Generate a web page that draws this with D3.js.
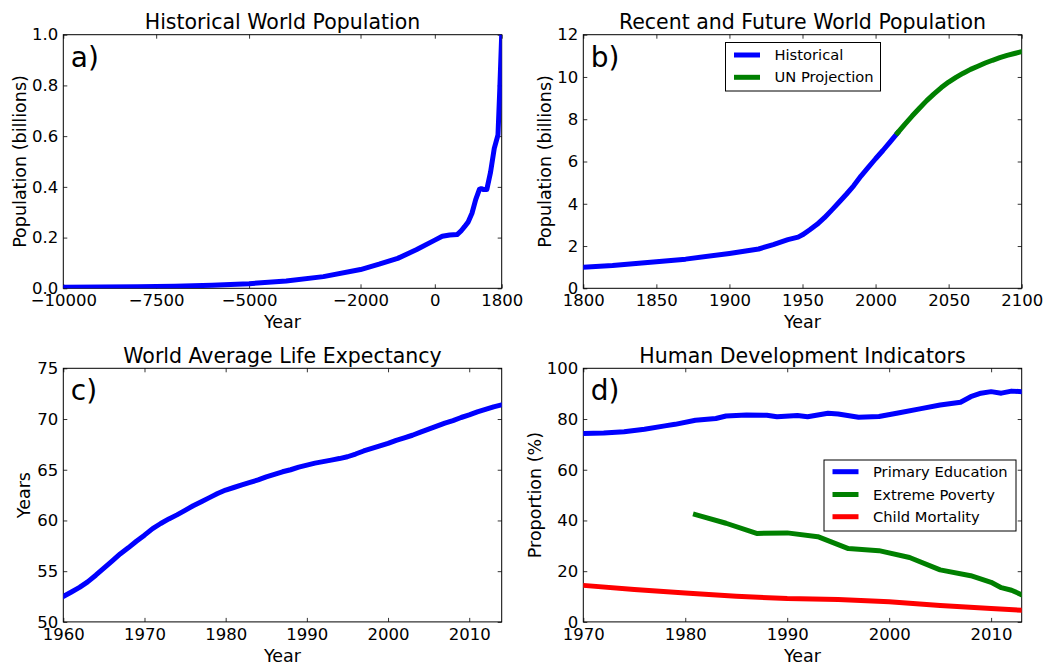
<!DOCTYPE html>
<html>
<head>
<meta charset="utf-8">
<script src="https://cdn.jsdelivr.net/npm/d3@7"></script>
<style>
  html, body { margin: 0; padding: 0; background: #fff; }
  svg { display: block; }
  text { font-family: "DejaVu Sans", sans-serif; fill: #000; }
</style>
</head>
<body>
<svg id="chart" width="1050" height="665"></svg>
<script>
// ---------------- DATA ----------------
// a) Historical world population (billions)
const histYears = [-10000, -9000, -8000, -7000, -6000, -5000, -4000, -3000, -2000, -1500, -1000, -500, 0, 200, 400, 600, 700, 800, 900, 1000, 1100, 1200, 1250, 1300, 1400, 1500, 1600, 1700, 1750, 1800];
const histPop   = [0.004, 0.005, 0.006, 0.008, 0.012, 0.018, 0.029, 0.046, 0.074, 0.095, 0.118, 0.152, 0.19, 0.205, 0.21, 0.212, 0.225, 0.243, 0.262, 0.296, 0.35, 0.39, 0.393, 0.39, 0.39, 0.458, 0.552, 0.605, 0.79, 1.0];
const histXTicks = [-10000, -7500, -5000, -2000, 0, 1800];
const histYTicks = [0, 0.2, 0.4, 0.6, 0.8, 1.0];

// b) Recent population and UN projection (billions)
const recentYears = [1800, 1820, 1850, 1870, 1900, 1910, 1920, 1930, 1940, 1947, 1950, 1955, 1960, 1965, 1970, 1975, 1980, 1985, 1990, 1995, 2000, 2005, 2010, 2015];
const recentPop   = [1.0, 1.08, 1.26, 1.38, 1.65, 1.75, 1.86, 2.07, 2.3, 2.42, 2.53, 2.77, 3.03, 3.34, 3.7, 4.07, 4.45, 4.85, 5.31, 5.72, 6.13, 6.52, 6.93, 7.35];
const projYears = [2015, 2020, 2025, 2030, 2035, 2040, 2045, 2050, 2055, 2060, 2065, 2070, 2075, 2080, 2085, 2090, 2095, 2100];
const projPop   = [7.35, 7.76, 8.15, 8.52, 8.88, 9.2, 9.5, 9.76, 9.98, 10.18, 10.36, 10.51, 10.66, 10.79, 10.91, 11.02, 11.11, 11.2];
const recentXTicks = [1800, 1850, 1900, 1950, 2000, 2050, 2100];
const recentYTicks = [0, 2, 4, 6, 8, 10, 12];
const recentLegend = ["Historical", "UN Projection"];

// c) World average life expectancy (years)
const lifeYears = [1960, 1961, 1962, 1963, 1964, 1965, 1966, 1967, 1968, 1969, 1970, 1971, 1972, 1973, 1974, 1975, 1976, 1977, 1978, 1979, 1980, 1981, 1982, 1983, 1984, 1985, 1986, 1987, 1988, 1989, 1990, 1991, 1992, 1993, 1994, 1995, 1996, 1997, 1998, 1999, 2000, 2001, 2002, 2003, 2004, 2005, 2006, 2007, 2008, 2009, 2010, 2011, 2012, 2013, 2014];
const lifeExp   = [52.5, 52.95, 53.4, 53.95, 54.6, 55.3, 56.0, 56.7, 57.3, 57.95, 58.55, 59.2, 59.7, 60.15, 60.55, 61.0, 61.45, 61.85, 62.25, 62.65, 63.0, 63.25, 63.5, 63.75, 64.0, 64.3, 64.55, 64.8, 65.0, 65.25, 65.46, 65.65, 65.8, 65.95, 66.1, 66.28, 66.55, 66.85, 67.1, 67.35, 67.6, 67.9, 68.15, 68.4, 68.7, 69.0, 69.3, 69.6, 69.85, 70.15, 70.4, 70.7, 70.95, 71.2, 71.4];
const lifeXTicks = [1960, 1970, 1980, 1990, 2000, 2010];
const lifeYTicks = [50, 55, 60, 65, 70, 75];

// d) Human development indicators (%)
const eduYears = [1970, 1972, 1974, 1976, 1978, 1979, 1981, 1983, 1984, 1986, 1988, 1989, 1991, 1992, 1994, 1995, 1997, 1999, 2001, 2003, 2005, 2007, 2008, 2009, 2010, 2011, 2012, 2013];
const eduVals  = [74.3, 74.5, 75.0, 76.0, 77.3, 77.9, 79.5, 80.2, 81.2, 81.6, 81.5, 80.9, 81.4, 80.9, 82.3, 82.0, 80.7, 81.0, 82.5, 84.0, 85.5, 86.6, 88.8, 90.2, 90.8, 90.2, 91.0, 90.8];
const povYears = [1981, 1984, 1987, 1990, 1993, 1996, 1999, 2002, 2005, 2008, 2010, 2011, 2012, 2013];
const povVals  = [42.3, 38.9, 34.9, 35.1, 33.6, 28.9, 28.1, 25.4, 20.5, 18.2, 15.6, 13.5, 12.5, 10.7];
const mortYears = [1970, 1975, 1980, 1985, 1990, 1995, 2000, 2005, 2010, 2013];
const mortVals  = [14.4, 12.8, 11.4, 10.1, 9.2, 8.8, 7.9, 6.5, 5.3, 4.6];
const devXTicks = [1970, 1980, 1990, 2000, 2010];
const devYTicks = [0, 20, 40, 60, 80, 100];
const devLegend = ["Primary Education", "Extreme Poverty", "Child Mortality"];

// ---------------- STYLE ----------------
const BLUE = "#0000ff", GREEN = "#008000", RED = "#ff0000";
const LW = 5;
const TICK_FS = 16.5, LABEL_FS = 17.5, TITLE_FS = 20.5, LEG_FS = 14.7, PANEL_FS = 28;
const minus = s => String(s).replace("-", "\u2212");

const svg = d3.select("#chart");
const defs = svg.append("defs");

function panel(cfg) {
  const {id, left, top, w, h, xDomain, yDomain, xTicks, yTicks, yFmt, title, ylabel, ylabelX, letter} = cfg;
  const g = svg.append("g").attr("transform", `translate(${left},${top})`);
  const x = d3.scaleLinear().domain(xDomain).range([0, w]);
  const y = d3.scaleLinear().domain(yDomain).range([h, 0]);

  defs.append("clipPath").attr("id", "clip-" + id)
    .append("rect").attr("x", 0).attr("y", 0).attr("width", w).attr("height", h);

  const tickStyle = sel => {
    sel.select(".domain").remove();
    sel.selectAll(".tick line").attr("stroke", "#000").attr("stroke-width", 0.8);
    sel.selectAll(".tick text").attr("font-size", TICK_FS).attr("fill", "#000")
      .attr("font-family", "DejaVu Sans");
  };
  g.append("g").attr("transform", `translate(0,${h})`)
    .call(d3.axisBottom(x).tickValues(xTicks).tickSizeInner(-4).tickSizeOuter(0).tickPadding(6).tickFormat(d => minus(d)))
    .call(tickStyle);
  g.append("g")
    .call(d3.axisTop(x).tickValues(xTicks).tickSizeInner(-4).tickSizeOuter(0).tickFormat(""))
    .call(tickStyle);
  g.append("g")
    .call(d3.axisLeft(y).tickValues(yTicks).tickSizeInner(-4).tickSizeOuter(0).tickPadding(5).tickFormat(yFmt))
    .call(tickStyle);
  g.append("g").attr("transform", `translate(${w},0)`)
    .call(d3.axisRight(y).tickValues(yTicks).tickSizeInner(-4).tickSizeOuter(0).tickFormat(""))
    .call(tickStyle);

  g.append("rect").attr("x", 0).attr("y", 0).attr("width", w).attr("height", h)
    .attr("fill", "none").attr("stroke", "#000").attr("stroke-width", 1);

  g.append("text").attr("x", w / 2).attr("y", -5.5).attr("text-anchor", "middle")
    .attr("font-size", TITLE_FS).text(title);
  g.append("text").attr("x", w / 2).attr("y", h + 40).attr("text-anchor", "middle")
    .attr("font-size", LABEL_FS).text("Year");
  svg.append("text").attr("transform", `translate(${ylabelX},${top + h / 2}) rotate(-90)`)
    .attr("text-anchor", "middle").attr("font-size", LABEL_FS).text(ylabel);
  g.append("text").attr("x", 7.5).attr("y", 32).attr("font-size", PANEL_FS).text(letter);

  const plot = g.append("g").attr("clip-path", `url(#clip-${id})`);
  const addLine = (xs, ys, color) => {
    const line = d3.line().x((d, i) => x(xs[i])).y((d, i) => y(ys[i]));
    plot.append("path").datum(ys).attr("d", line).attr("fill", "none")
      .attr("stroke", color).attr("stroke-width", LW)
      .attr("stroke-linejoin", "round").attr("stroke-linecap", "square");
  };
  return {g, x, y, addLine};
}

function legend(g, x0, y0, bw, bh, items, rowYs) {
  const lg = g.append("g").attr("transform", `translate(${x0},${y0})`);
  lg.append("rect").attr("width", bw).attr("height", bh).attr("fill", "#fff")
    .attr("stroke", "#000").attr("stroke-width", 1);
  items.forEach((it, i) => {
    lg.append("line").attr("x1", 8.5).attr("x2", 34.5).attr("y1", rowYs[i]).attr("y2", rowYs[i])
      .attr("stroke", it.color).attr("stroke-width", LW);
    lg.append("text").attr("x", 49).attr("y", rowYs[i]).attr("dy", "0.35em")
      .attr("font-size", LEG_FS).text(it.label);
  });
}

const W = 438.4, H = 253.6;

const pa = panel({id: "a", left: 63.3, top: 34.7, w: W, h: H, xDomain: [-10000, 1800], yDomain: [0, 1],
  xTicks: histXTicks, yTicks: histYTicks, yFmt: d3.format(".1f"),
  title: "Historical World Population", ylabel: "Population (billions)", ylabelX: 26, letter: "a)"});
pa.addLine(histYears, histPop, BLUE);

const pb = panel({id: "b", left: 583.3, top: 34.7, w: W, h: H, xDomain: [1800, 2100], yDomain: [0, 12],
  xTicks: recentXTicks, yTicks: recentYTicks, yFmt: d3.format("d"),
  title: "Recent and Future World Population", ylabel: "Population (billions)", ylabelX: 551, letter: "b)"});
pb.addLine(recentYears, recentPop, BLUE);
pb.addLine(projYears, projPop, GREEN);
legend(pb.g, 725.5 - 583.3, 42.5 - 34.7, 155, 48.5,
  [{label: recentLegend[0], color: BLUE}, {label: recentLegend[1], color: GREEN}], [12.5, 34.8]);

const pc = panel({id: "c", left: 63.3, top: 368.3, w: W, h: H, xDomain: [1960, 2014], yDomain: [50, 75],
  xTicks: lifeXTicks, yTicks: lifeYTicks, yFmt: d3.format("d"),
  title: "World Average Life Expectancy", ylabel: "Years", ylabelX: 30, letter: "c)"});
pc.addLine(lifeYears, lifeExp, BLUE);

const pd = panel({id: "d", left: 583.3, top: 368.3, w: W, h: H, xDomain: [1970, 2013], yDomain: [0, 100],
  xTicks: devXTicks, yTicks: devYTicks, yFmt: d3.format("d"),
  title: "Human Development Indicators", ylabel: "Proportion (%)", ylabelX: 540.5, letter: "d)"});
pd.addLine(eduYears, eduVals, BLUE);
pd.addLine(povYears, povVals, GREEN);
pd.addLine(mortYears, mortVals, RED);
legend(pd.g, 824 - 583.3, 460 - 368.3, 192, 71,
  [{label: devLegend[0], color: BLUE}, {label: devLegend[1], color: GREEN}, {label: devLegend[2], color: RED}],
  [11.7, 34.5, 56.7]);
</script>
</body>
</html>
